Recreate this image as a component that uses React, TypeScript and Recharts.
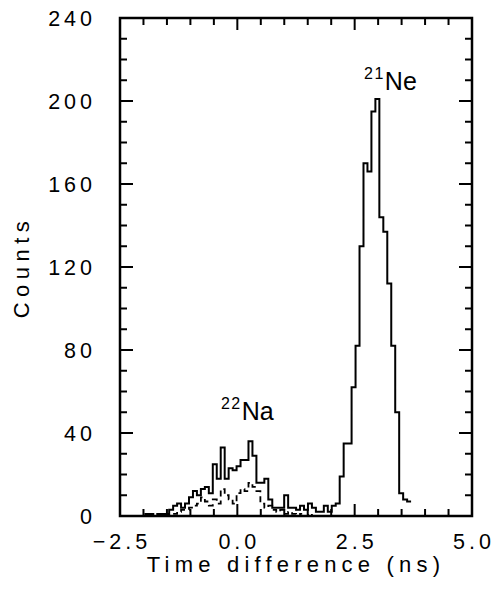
import React from 'react';
import { LineChart, Line, XAxis, YAxis, ReferenceArea, ReferenceDot } from 'recharts';

// histogram binning (ns)
const binStart = -2.044;
const binWidth = 0.0845;

// counts per bin, all events
const allCounts = [
  0, 1, 1, 0, 1, 1, 1, 3, 5, 6, 4, 6, 9, 12, 10, 13, 14, 11, 25, 18, 33, 18, 23,
  22, 24, 27, 27, 36, 29, 16, 16, 18, 8, 4, 4, 4, 10, 4, 4, 3, 5, 3, 6, 4, 2, 2,
  5, 2, 5, 6, 19, 35, 35, 62, 82, 130, 170, 166, 195, 201, 144, 137, 112, 82,
  50, 11, 8, 7,
];

// counts per bin, gated (dashed)
const gatedCounts = [
  null, null, null, null, null, null, 0, 1, 1, 2, 3, 3, 4, 5, 6, 9, 7, 5, 8, 6,
  13, 10, 8, 6, 11, 13, 12, 16, 14, 12, 6, 4, 5, 3, 2, 3, 1, 2, 1, 0, 1, 0, 1, 0,
];

const xTicks = [-2.5, -2, -1.5, -1, -0.5, 0, 0.5, 1, 1.5, 2, 2.5, 3, 3.5, 4, 4.5, 5];
const xLabels = [-2.5, 0, 2.5, 5];
const yTicks = [
  0, 10, 20, 30, 40, 50, 60, 70, 80, 90, 100, 110, 120, 130, 140, 150, 160, 170,
  180, 190, 200, 210, 220, 230, 240,
];
const yLabels = [0, 40, 80, 120, 160, 200, 240];

const FONT = '"Liberation Sans", Arial, sans-serif';
const PLOT_TOP = 18;
const PLOT_LEFT = 120;
const PLOT_W = 352;

const data = [];
for (let j = 0; j <= allCounts.length; j++) {
  const a = j < allCounts.length ? allCounts[j] : allCounts[allCounts.length - 1];
  let g = j < gatedCounts.length ? gatedCounts[j] : null;
  if (g == null && j > 0 && gatedCounts[j - 1] != null) g = gatedCounts[j - 1];
  data.push({ t: binStart + j * binWidth, all: a, gated: g });
}

const fmtX = (v: number) => (v < 0 ? '\u2212' + Math.abs(v).toFixed(1) : v.toFixed(1));

const XTick = (props: any) => {
  const { x, y, payload } = props;
  const v = payload.value;
  const major = xLabels.includes(v);
  const len = major ? 12 : 7;
  return (
    <g>
      <line x1={x} x2={x} y1={y} y2={y - len} stroke="#000" strokeWidth={2} />
      <line x1={x} x2={x} y1={PLOT_TOP} y2={PLOT_TOP + len} stroke="#000" strokeWidth={2} />
      {major && (
        <text x={x + 2} y={y + 33} textAnchor="middle" fontSize={21.5} fontFamily={FONT} letterSpacing={4} fill="#000">
          {fmtX(v)}
        </text>
      )}
    </g>
  );
};

const YTick = (props: any) => {
  const { x, y, payload } = props;
  const v = payload.value;
  const major = yLabels.includes(v);
  const len = major ? 13 : 7;
  return (
    <g>
      <line x1={x} x2={x + len} y1={y} y2={y} stroke="#000" strokeWidth={2} />
      <line x1={PLOT_LEFT + PLOT_W} x2={PLOT_LEFT + PLOT_W - len} y1={y} y2={y} stroke="#000" strokeWidth={2} />
      {major && (
        <text x={x - 24} y={y + 7.5} textAnchor="end" fontSize={21.5} fontFamily={FONT} letterSpacing={4} fill="#000">
          {v}
        </text>
      )}
    </g>
  );
};

const IsoLabel = (mass: string, name: string) => (props: any) => (
  <text x={props.cx} y={props.cy} fontFamily={FONT} fill="#000">
    <tspan fontSize={16} letterSpacing={1.5} dy={-11}>{mass}</tspan>
    <tspan fontSize={25} dy={11}>{name}</tspan>
  </text>
);

export default function App() {
  return (
    <div style={{ position: 'absolute', left: 0, top: 0, background: '#fff' }}>
      <LineChart
        width={496}
        height={596}
        data={data}
        margin={{ top: PLOT_TOP, right: 24, bottom: 0, left: 0 }}
      >
        <XAxis
          dataKey="t"
          type="number"
          domain={[-2.5, 5]}
          ticks={xTicks}
          allowDataOverflow
          height={80}
          tickSize={0}
          tickMargin={0}
          tickLine={false}
          axisLine={false}
          tick={XTick}
          interval={0}
          label={{
            value: 'Time difference (ns)',
            position: 'insideBottom',
            offset: 24,
            fontSize: 22,
            fontFamily: FONT,
            letterSpacing: 5.2,
            fill: '#000',
          }}
        />
        <YAxis
          type="number"
          domain={[0, 240]}
          ticks={yTicks}
          allowDataOverflow
          width={PLOT_LEFT}
          tickSize={0}
          tickMargin={0}
          tickLine={false}
          axisLine={false}
          tick={YTick}
          interval={0}
          label={{
            value: 'Counts',
            angle: -90,
            position: 'insideLeft',
            offset: 21,
            fontSize: 22,
            fontFamily: FONT,
            letterSpacing: 5.5,
            fill: '#000',
            style: { textAnchor: 'middle' },
          }}
        />
        <ReferenceArea x1={-2.5} x2={5} y1={0} y2={240} fill="none" stroke="#000" strokeWidth={2.5} />
        <Line
          type="stepAfter"
          dataKey="gated"
          stroke="#000"
          strokeWidth={1.8}
          strokeDasharray="6 4"
          dot={false}
          activeDot={false}
          isAnimationActive={false}
        />
        <Line
          type="stepAfter"
          dataKey="all"
          stroke="#000"
          strokeWidth={2}
          dot={false}
          activeDot={false}
          isAnimationActive={false}
        />
        <ReferenceDot x={-0.35} y={46.3} r={0} shape={IsoLabel('22', 'Na')} />
        <ReferenceDot x={2.7} y={205.3} r={0} shape={IsoLabel('21', 'Ne')} />
      </LineChart>
    </div>
  );
}
